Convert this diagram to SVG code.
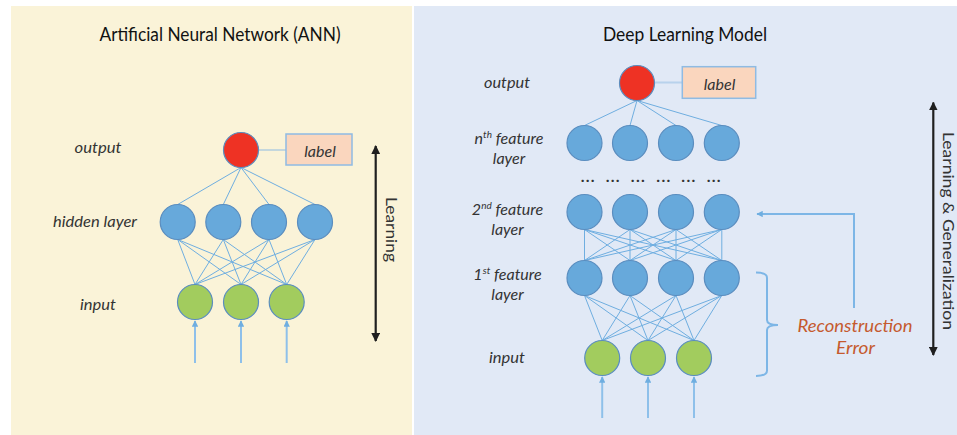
<svg xmlns="http://www.w3.org/2000/svg" width="957" height="435" viewBox="0 0 957 435">
<defs>
<style>
.lbl{font-family:Lato,"Open Sans","Liberation Sans",sans-serif;font-style:italic;font-size:16px;fill:#333;text-anchor:middle}
.title{font-family:Lato,"Open Sans","Liberation Sans",sans-serif;font-size:18.5px;fill:#111;text-anchor:middle}
.rot{font-family:Lato,"Open Sans","Liberation Sans",sans-serif;font-size:15.5px;fill:#333;text-anchor:middle}
.blue{fill:#67A9DB;stroke:#5A8DBF;stroke-width:1.2}
.green{fill:#A2CC5E;stroke:#5A8DBF;stroke-width:1.2}
.red{fill:#EE3224;stroke:#5A8DBF;stroke-width:1.2}
.box{fill:#FAD6BE;stroke:#8FBBE3;stroke-width:1.5}
.conn line{stroke:#6FAEE0;stroke-width:1}
.inarr{stroke:#8EC0EA;stroke-width:2;fill:none}
.fb{stroke:#7DB6E6;stroke-width:2;fill:none}
.big{stroke:#1F1F1F;stroke-width:2.2;fill:none}
.dots{font-family:Lato,"Liberation Sans",sans-serif;font-size:16px;font-weight:bold;letter-spacing:1.3px;fill:#333;text-anchor:middle}
</style>
<marker id="ah" viewBox="0 0 10 10" refX="9" refY="5" markerWidth="3.2" markerHeight="3.2" orient="auto-start-reverse"><path d="M0,0 L10,5 L0,10 z" fill="#6FAEE0"/></marker>
<marker id="bh" viewBox="0 0 10 10" refX="9" refY="5" markerWidth="4" markerHeight="4" orient="auto-start-reverse"><path d="M0,0 L10,5 L0,10 z" fill="#1F1F1F"/></marker>
</defs>
<rect x="11" y="6" width="401" height="429" fill="#FAF3D8"/>
<rect x="414" y="6" width="543" height="429" fill="#E1E9F6"/>

<text class="title" x="220" y="41" textLength="241" lengthAdjust="spacingAndGlyphs">Artificial Neural Network (ANN)</text>
<text class="title" x="685" y="41" textLength="164" lengthAdjust="spacingAndGlyphs">Deep Learning Model</text>

<g id="connectors">
<g class="conn">
<line x1="241" y1="167.5" x2="177.7" y2="204.5"/><line x1="241" y1="167.5" x2="223.3" y2="204.5"/><line x1="241" y1="167.5" x2="269" y2="204.5"/><line x1="241" y1="167.5" x2="315" y2="204.5"/>
<line x1="177.7" y1="239.5" x2="195" y2="284.5"/><line x1="177.7" y1="239.5" x2="241" y2="284.5"/><line x1="177.7" y1="239.5" x2="286.7" y2="284.5"/>
<line x1="223.3" y1="239.5" x2="195" y2="284.5"/><line x1="223.3" y1="239.5" x2="241" y2="284.5"/><line x1="223.3" y1="239.5" x2="286.7" y2="284.5"/>
<line x1="269" y1="239.5" x2="195" y2="284.5"/><line x1="269" y1="239.5" x2="241" y2="284.5"/><line x1="269" y1="239.5" x2="286.7" y2="284.5"/>
<line x1="315" y1="239.5" x2="195" y2="284.5"/><line x1="315" y1="239.5" x2="241" y2="284.5"/><line x1="315" y1="239.5" x2="286.7" y2="284.5"/>

<line x1="637" y1="100.5" x2="584.5" y2="125.5"/><line x1="637" y1="100.5" x2="630" y2="125.5"/><line x1="637" y1="100.5" x2="676" y2="125.5"/><line x1="637" y1="100.5" x2="721.8" y2="125.5"/>

<line x1="584.5" y1="229.5" x2="584.5" y2="260.5"/><line x1="584.5" y1="229.5" x2="630" y2="260.5"/><line x1="584.5" y1="229.5" x2="676" y2="260.5"/><line x1="584.5" y1="229.5" x2="721.8" y2="260.5"/>
<line x1="630" y1="229.5" x2="584.5" y2="260.5"/><line x1="630" y1="229.5" x2="630" y2="260.5"/><line x1="630" y1="229.5" x2="676" y2="260.5"/><line x1="630" y1="229.5" x2="721.8" y2="260.5"/>
<line x1="676" y1="229.5" x2="584.5" y2="260.5"/><line x1="676" y1="229.5" x2="630" y2="260.5"/><line x1="676" y1="229.5" x2="676" y2="260.5"/><line x1="676" y1="229.5" x2="721.8" y2="260.5"/>
<line x1="721.8" y1="229.5" x2="584.5" y2="260.5"/><line x1="721.8" y1="229.5" x2="630" y2="260.5"/><line x1="721.8" y1="229.5" x2="676" y2="260.5"/><line x1="721.8" y1="229.5" x2="721.8" y2="260.5"/>

<line x1="584.5" y1="295.5" x2="602.2" y2="340.5"/><line x1="584.5" y1="295.5" x2="648" y2="340.5"/><line x1="584.5" y1="295.5" x2="694" y2="340.5"/>
<line x1="630" y1="295.5" x2="602.2" y2="340.5"/><line x1="630" y1="295.5" x2="648" y2="340.5"/><line x1="630" y1="295.5" x2="694" y2="340.5"/>
<line x1="676" y1="295.5" x2="602.2" y2="340.5"/><line x1="676" y1="295.5" x2="648" y2="340.5"/><line x1="676" y1="295.5" x2="694" y2="340.5"/>
<line x1="721.8" y1="295.5" x2="602.2" y2="340.5"/><line x1="721.8" y1="295.5" x2="648" y2="340.5"/><line x1="721.8" y1="295.5" x2="694" y2="340.5"/>
</g>
<line x1="258.5" y1="150" x2="286" y2="150" stroke="#8FBBE3" stroke-width="2" stroke-dasharray="1 1"/>
<line x1="654.5" y1="82.5" x2="682.3" y2="82.5" stroke="#8FBBE3" stroke-width="2" stroke-dasharray="1 1"/>
<line class="inarr" x1="195" y1="363" x2="195" y2="321" marker-end="url(#ah)"/>
<line class="inarr" x1="241" y1="363" x2="241" y2="321" marker-end="url(#ah)"/>
<line class="inarr" x1="286.7" y1="363" x2="286.7" y2="321" marker-end="url(#ah)"/>
<line class="inarr" x1="602.2" y1="418" x2="602.2" y2="377" marker-end="url(#ah)"/>
<line class="inarr" x1="648" y1="418" x2="648" y2="377" marker-end="url(#ah)"/>
<line class="inarr" x1="694" y1="418" x2="694" y2="377" marker-end="url(#ah)"/>
<path class="fb" d="M854,308 L854,214 L757,214" marker-end="url(#ah)"/>
<path class="fb" d="M756,272.5 Q767,272.5 767,278 L767,320 Q767,325 778,325 Q767,325 767,330 L767,370.5 Q767,376 756,376"/>
<line class="big" x1="375.7" y1="146" x2="375.7" y2="341" marker-start="url(#bh)" marker-end="url(#bh)"/>
<line class="big" x1="933.3" y1="102.5" x2="933.3" y2="355" marker-start="url(#bh)" marker-end="url(#bh)"/>
</g>

<g id="ann-output"><circle class="red" cx="241" cy="150" r="17.5"/><text class="lbl" x="98" y="153" textLength="47" lengthAdjust="spacingAndGlyphs">output</text></g>
<g id="ann-label"><rect class="box" x="286" y="134" width="66" height="31"/><text class="lbl" x="320" y="157">label</text></g>
<g id="ann-hidden">
<circle class="blue" cx="177.7" cy="222" r="17.5"/><circle class="blue" cx="223.3" cy="222" r="17.5"/><circle class="blue" cx="269" cy="222" r="17.5"/><circle class="blue" cx="315" cy="222" r="17.5"/>
<text class="lbl" x="95" y="227" textLength="84" lengthAdjust="spacingAndGlyphs">hidden layer</text></g>
<g id="ann-input">
<circle class="green" cx="195" cy="302" r="17.5"/><circle class="green" cx="241" cy="302" r="17.5"/><circle class="green" cx="286.7" cy="302" r="17.5"/>
<text class="lbl" x="98" y="310" textLength="36" lengthAdjust="spacingAndGlyphs">input</text></g>
<g id="ann-learning"><text class="rot" transform="translate(386,229.5) rotate(90)" textLength="65" lengthAdjust="spacingAndGlyphs">Learning</text></g>

<g id="dl-output"><circle class="red" cx="637" cy="83" r="17.5"/><text class="lbl" x="507" y="88" textLength="46" lengthAdjust="spacingAndGlyphs">output</text></g>
<g id="dl-label"><rect class="box" x="682.3" y="66.7" width="73.4" height="31.6"/><text class="lbl" x="719.5" y="90">label</text></g>
<g id="dl-nth">
<circle class="blue" cx="584.5" cy="143" r="17.5"/><circle class="blue" cx="630" cy="143" r="17.5"/><circle class="blue" cx="676" cy="143" r="17.5"/><circle class="blue" cx="721.8" cy="143" r="17.5"/>
<text class="lbl" x="509" y="143.5"><tspan>n</tspan><tspan font-size="10" dy="-6">th</tspan><tspan dy="6"> feature</tspan></text>
<text class="lbl" x="509" y="163.5">layer</text></g>
<g id="dl-dots">
<text class="dots" x="588.3" y="182">...</text><text class="dots" x="613.3" y="182">...</text><text class="dots" x="638.5" y="182">...</text><text class="dots" x="664" y="182">...</text><text class="dots" x="689" y="182">...</text><text class="dots" x="714.3" y="182">...</text></g>
<g id="dl-2nd">
<circle class="blue" cx="584.5" cy="212" r="17.5"/><circle class="blue" cx="630" cy="212" r="17.5"/><circle class="blue" cx="676" cy="212" r="17.5"/><circle class="blue" cx="721.8" cy="212" r="17.5"/>
<text class="lbl" x="507.5" y="215"><tspan>2</tspan><tspan font-size="10" dy="-6">nd</tspan><tspan dy="6"> feature</tspan></text>
<text class="lbl" x="507.5" y="235">layer</text></g>
<g id="dl-1st">
<circle class="blue" cx="584.5" cy="278" r="17.5"/><circle class="blue" cx="630" cy="278" r="17.5"/><circle class="blue" cx="676" cy="278" r="17.5"/><circle class="blue" cx="721.8" cy="278" r="17.5"/>
<text class="lbl" x="507.5" y="280"><tspan>1</tspan><tspan font-size="10" dy="-6">st</tspan><tspan dy="6"> feature</tspan></text>
<text class="lbl" x="507.5" y="300">layer</text></g>
<g id="dl-input">
<circle class="green" cx="602.2" cy="358" r="17.5"/><circle class="green" cx="648" cy="358" r="17.5"/><circle class="green" cx="694" cy="358" r="17.5"/>
<text class="lbl" x="507" y="362.5" textLength="36" lengthAdjust="spacingAndGlyphs">input</text></g>
<g id="dl-recon">
<text class="lbl" x="855" y="331.5" style="fill:#C55A2E;font-size:17px" textLength="115" lengthAdjust="spacingAndGlyphs">Reconstruction</text>
<text class="lbl" x="855.5" y="353.5" style="fill:#C55A2E;font-size:17px" textLength="39" lengthAdjust="spacingAndGlyphs">Error</text></g>
<g id="dl-learning"><text class="rot" transform="translate(943,231) rotate(90)" textLength="198" lengthAdjust="spacingAndGlyphs">Learning &amp; Generalization</text></g>
</svg>
